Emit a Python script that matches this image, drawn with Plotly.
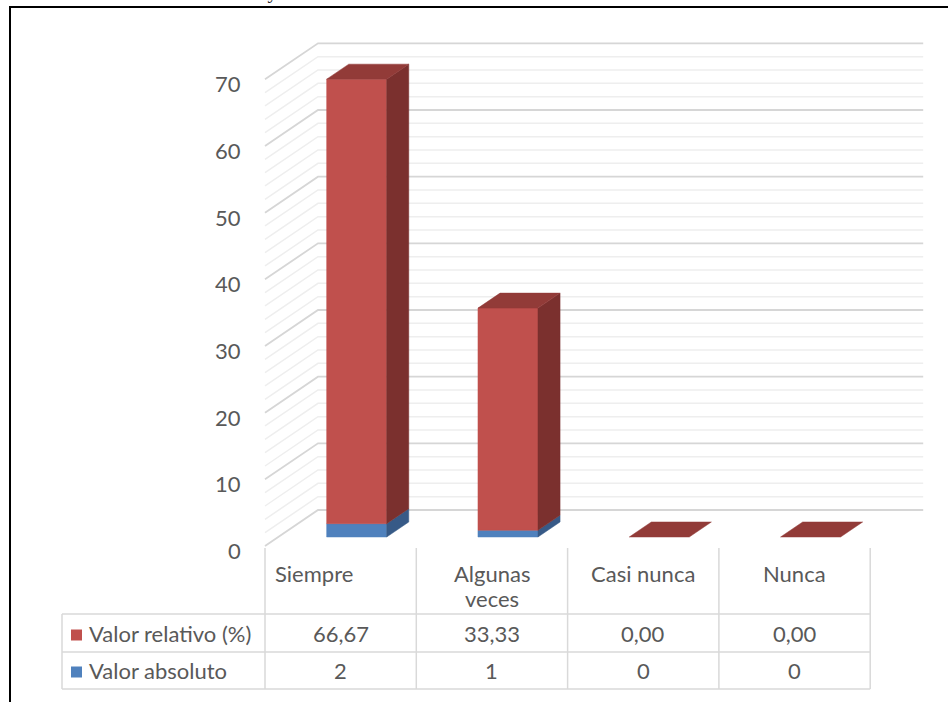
import plotly.graph_objects as go

# ---- data -------------------------------------------------------------
categories = ["Siempre", "Algunas veces", "Casi nunca", "Nunca"]
valor_relativo = [66.67, 33.33, 0.00, 0.00]
valor_absoluto = [2, 1, 0, 0]
y_ticks = [0, 10, 20, 30, 40, 50, 60, 70]
series_names = ["Valor relativo (%)", "Valor absoluto"]
title_text = "Gráfico 9: Guía a los alumnos y coordina actividades"

# ---- geometry of the pseudo-3D frame ------------------------------------
W, H = 948, 702
X0_PX, COL_PX = 265.0, 151.3     # left edge of first category, category width (px)
Y0_PX, UNIT_PX = 546.0, 6.667    # value 0 on the front plane, pixels per value unit
DEPTH_DX = 53 / COL_PX           # front -> back wall shift, in category units
DEPTH_DY = 36 / UNIT_PX          # front -> back wall shift, in value units
BAR_OFF, BAR_W = 0.32, 60 / COL_PX
D_FRONT, D_BACK = 0.25, 0.667    # bar depth inside the box

x_range = [(0 - X0_PX) / COL_PX, (W - X0_PX) / COL_PX]
y_range = [(Y0_PX - H) / UNIT_PX, Y0_PX / UNIT_PX]

RED, RED_SIDE, RED_TOP = "#C0504D", "#7B302E", "#923B38"
BLUE, BLUE_SIDE = "#4F81BD", "#375A87"
GRID_MAJOR, GRID_MINOR = "#D6D6D6", "#EEEEEE"
TABLE_LINE = "#D9D9D9"
TEXT = "#595959"
FONT = "Lato"
FS = 22


def proj(c, v, d):
    """Project (category position, value, depth) onto the 2D axes."""
    return c + d * DEPTH_DX, v + d * DEPTH_DY


def px(x):
    return x / W


def py(y):
    return 1 - y / H


fig = go.Figure()

# ---- walls: gridlines on side wall and back wall ------------------------
def grid_trace(values, color, width):
    xs, ys = [], []
    for v in values:
        for c, d in [(0, 0), (0, 1), (len(categories), 1)]:
            x, y = proj(c, v, d)
            xs.append(x)
            ys.append(y)
        xs.append(None)
        ys.append(None)
    fig.add_trace(go.Scatter(x=xs, y=ys, mode="lines",
                             line=dict(color=color, width=width),
                             hoverinfo="skip", showlegend=False))


step_minor = 2
minor_vals = [v for v in range(0, y_ticks[-1] + 1, step_minor) if v not in y_ticks]
grid_trace(minor_vals, GRID_MINOR, 1.5)
grid_trace(y_ticks, GRID_MAJOR, 1.8)


# ---- bars ------------------------------------------------------------------
def face(pts, color):
    xs = [p[0] for p in pts] + [pts[0][0]]
    ys = [p[1] for p in pts] + [pts[0][1]]
    fig.add_trace(go.Scatter(x=xs, y=ys, mode="lines", fill="toself",
                             fillcolor=color, line=dict(color=color, width=0.5),
                             hoverinfo="skip", showlegend=False))


def box(i, v0, v1, front, side, top=None):
    cl = i + BAR_OFF
    cr = cl + BAR_W
    if v1 > v0:
        face([proj(cl, v0, D_FRONT), proj(cr, v0, D_FRONT),
              proj(cr, v1, D_FRONT), proj(cl, v1, D_FRONT)], front)
        face([proj(cr, v0, D_FRONT), proj(cr, v0, D_BACK),
              proj(cr, v1, D_BACK), proj(cr, v1, D_FRONT)], side)
    if top:
        face([proj(cl, v1, D_FRONT), proj(cr, v1, D_FRONT),
              proj(cr, v1, D_BACK), proj(cl, v1, D_BACK)], top)


for i in range(len(categories)):
    a = valor_absoluto[i]
    r = valor_relativo[i]
    box(i, 0, a, BLUE, BLUE_SIDE)
    box(i, a, a + r, RED, RED_SIDE, RED_TOP)

annotations = []
shapes = []

# ---- value axis labels ----------------------------------------------------
for t in y_ticks:
    annotations.append(dict(x=(243 - X0_PX) / COL_PX, y=t, xref="x", yref="y",
                            text=str(t), showarrow=False, xanchor="right",
                            yanchor="middle", yshift=-4.5,
                            font=dict(family=FONT, size=FS, color=TEXT)))

# ---- data table under the chart -------------------------------------------
n = len(categories)
ROW_TOP, ROW1, ROW2 = 614, 652, 689
HEAD_TOP = 548
LEG_LEFT = (62 - X0_PX) / COL_PX

for c in range(n + 1):
    shapes.append(dict(type="line", xref="x", yref="paper", x0=c, x1=c,
                       y0=py(HEAD_TOP), y1=py(ROW2),
                       line=dict(color=TABLE_LINE, width=1.5)))
shapes.append(dict(type="line", xref="x", yref="paper", x0=LEG_LEFT, x1=LEG_LEFT,
                   y0=py(ROW_TOP), y1=py(ROW2), line=dict(color=TABLE_LINE, width=1.5)))
for yy in (ROW_TOP, ROW1, ROW2):
    shapes.append(dict(type="line", xref="x", yref="paper", x0=LEG_LEFT, x1=n,
                       y0=py(yy), y1=py(yy), line=dict(color=TABLE_LINE, width=1.5)))

# category headers (long labels wrap onto a second line)
HEAD_Y, HEAD_LINE = 573, 25
for i, cat in enumerate(categories):
    lines = cat.split(" ") if cat == "Algunas veces" else [cat]
    for k, line in enumerate(lines):
        if i == 0:
            x, anchor = i + 8 / COL_PX, "left"
        else:
            x, anchor = i + 0.5, "center"
        annotations.append(dict(x=x, y=py(HEAD_Y + k * HEAD_LINE), xref="x",
                                yref="paper", text=line, showarrow=False,
                                xanchor=anchor, yanchor="middle",
                                font=dict(family=FONT, size=FS, color=TEXT)))

# legend keys + series rows
row_centers = [633, 670]
swatch = [RED, BLUE]
rows = [[f"{v:.2f}".replace(".", ",") for v in valor_relativo],
        [str(v) for v in valor_absoluto]]
for k, yc in enumerate(row_centers):
    shapes.append(dict(type="rect", xref="paper", yref="paper",
                       x0=px(71), x1=px(82), y0=py(yc + 7.5), y1=py(yc - 3.5),
                       line=dict(width=0), fillcolor=swatch[k]))
    annotations.append(dict(x=px(87), y=py(yc), xref="paper", yref="paper",
                            text=series_names[k], showarrow=False, xanchor="left",
                            yanchor="middle",
                            font=dict(family=FONT, size=FS, color=TEXT)))
    for i, s in enumerate(rows[k]):
        annotations.append(dict(x=i + 0.5, y=py(yc), xref="x", yref="paper",
                                text=s, showarrow=False, xanchor="center",
                                yanchor="middle",
                                font=dict(family=FONT, size=FS, color=TEXT)))

# caption line above the frame (runs past the page top)
annotations.append(dict(x=px(20), y=py(5), xref="paper", yref="paper",
                        text=title_text, showarrow=False, xanchor="left",
                        yanchor="bottom",
                        font=dict(family="Liberation Serif", size=20, color="#222222")))

# outer frame
shapes.append(dict(type="rect", xref="paper", yref="paper",
                   x0=px(10), y0=py(7), x1=px(W + 30), y1=py(H + 30),
                   line=dict(color="black", width=2), fillcolor="rgba(0,0,0,0)"))

fig.update_layout(
    width=W, height=H, autosize=False,
    margin=dict(l=0, r=0, t=0, b=0),
    paper_bgcolor="white", plot_bgcolor="white",
    xaxis=dict(range=x_range, visible=False, fixedrange=True),
    yaxis=dict(range=y_range, visible=False, fixedrange=True),
    annotations=annotations, shapes=shapes,
    showlegend=False, hovermode=False,
)

fig.write_html("out.html")
